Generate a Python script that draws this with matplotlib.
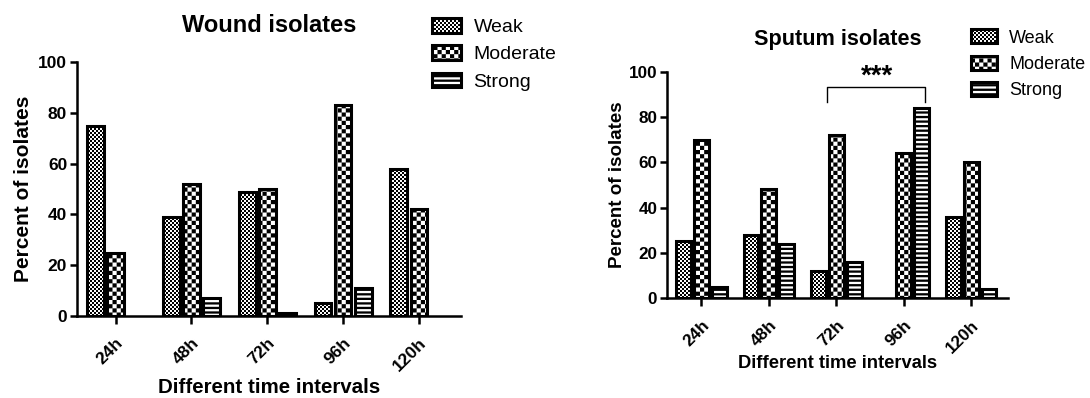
import warnings
import numpy as np
import matplotlib
matplotlib.use('Agg')
import matplotlib.pyplot as plt
import matplotlib.hatch as mhatch
import matplotlib.transforms as mtransforms
from matplotlib.path import Path

warnings.filterwarnings('ignore')

# data
intervals = ['24h', '48h', '72h', '96h', '120h']
levels = ['Weak', 'Moderate', 'Strong']
wound_weak = [75, 39, 49, 5, 58]
wound_moderate = [25, 52, 50, 83, 42]
wound_strong = [0, 7, 1, 11, 0]
sputum_weak = [25, 28, 12, 0, 36]
sputum_moderate = [70, 48, 72, 64, 60]
sputum_strong = [5, 24, 16, 84, 4]


# filled hatches (checkerboard 'c', horizontal stripes 's') like GraphPad
class RectHatch(mhatch.HatchPatternBase):
    def __init__(self, hatch, density):
        self.cells = []
        nc = 2 * hatch.count('c')
        for i in range(nc):
            for j in range(nc):
                if (i + j) % 2 == 0:
                    self.cells.append((i / nc, j / nc, 1.0 / nc, 1.0 / nc))
        ns = hatch.count('s')
        for j in range(ns):
            self.cells.append((0, j / ns, 1.0, 0.5 / ns))
        self.num_vertices = len(self.cells) * 5

    def set_vertices_and_codes(self, vertices, codes):
        for k, (x0, y0, w, h) in enumerate(self.cells):
            vertices[5*k:5*k+5] = [(x0, y0), (x0+w, y0), (x0+w, y0+h),
                                   (x0, y0+h), (x0, y0)]
            codes[5*k:5*k+5] = [Path.MOVETO, Path.LINETO, Path.LINETO,
                                Path.LINETO, Path.CLOSEPOLY]

mhatch._hatch_types.append(RectHatch)

plt.rcParams['font.family'] = ['Liberation Sans', 'DejaVu Sans']
plt.rcParams['hatch.linewidth'] = 0.01
plt.rcParams['hatch.color'] = 'black'

hatches = ['c' * 25, 'c' * 12, 's' * 22]


def draw_panel(ax, series, title, fs):
    x = np.arange(len(intervals))
    w = 0.22
    offs = [-0.265, 0.0, 0.265]
    for vals, lab, h, o in zip(series, levels, hatches, offs):
        lw = [2.2 if v > 0 else 0 for v in vals]
        ax.bar(x + o, vals, w, label=lab, facecolor='white', edgecolor='black',
               linewidth=lw, hatch=h, zorder=2)
    ax.set_xlim(-0.51, 4.55)
    ax.set_ylim(0, 100)
    ax.set_yticks([0, 20, 40, 60, 80, 100])
    ax.set_xticks(x)
    ax.set_xticklabels(intervals, rotation=45, ha='right', va='top',
                       rotation_mode='anchor', fontweight='bold', fontsize=fs['tick'])
    shift = mtransforms.ScaledTranslation(4 / 72, 0, fig.dpi_scale_trans)
    for t in ax.get_xticklabels():
        t.set_transform(t.get_transform() + shift)
    for t in ax.get_yticklabels():
        t.set_fontweight('bold')
        t.set_fontsize(fs['tick'])
    for s in ['top', 'right']:
        ax.spines[s].set_visible(False)
    for s in ['left', 'bottom']:
        ax.spines[s].set_linewidth(1.8)
    ax.tick_params(width=1.8, length=5, direction='out', pad=2)
    ax.tick_params(axis='x', length=6, pad=8)
    ax.set_title(title, fontsize=fs['title'], fontweight='bold', pad=fs['tpad'])
    ax.set_ylabel('Percent of isolates', fontsize=fs['ylabel'], fontweight='bold')
    ax.set_xlabel('Different time intervals', fontsize=fs['xlabel'], fontweight='bold')
    ax.xaxis.set_label_coords(0.5, fs['xl_y'])
    ax.yaxis.set_label_coords(fs['yl_x'], 0.5)


def add_legend(ax, anchor, size, hl, ls):
    leg = ax.legend(loc='upper left', bbox_to_anchor=anchor, bbox_transform=fig.transFigure,
                    frameon=False, borderpad=0, borderaxespad=0, fontsize=size,
                    handlelength=hl, handleheight=0.8, handletextpad=0.65,
                    labelspacing=ls)
    for hd in leg.legend_handles:
        hd.set_linewidth(2.2)


fig = plt.figure(figsize=(10.9, 3.98), dpi=100)

ax1 = fig.add_axes([0.0706, 0.206, 0.352, 0.638])
draw_panel(ax1, [wound_weak, wound_moderate, wound_strong], 'Wound isolates',
           {'tick': 12.5, 'title': 17, 'xlabel': 14.8, 'ylabel': 15, 'tpad': 22,
            'xl_y': -0.245, 'yl_x': -0.115})
add_legend(ax1, (0.396, 0.955), 14, 1.5, 0.47)

ax2 = fig.add_axes([0.612, 0.251, 0.313, 0.569])
draw_panel(ax2, [sputum_weak, sputum_moderate, sputum_strong], 'Sputum isolates',
           {'tick': 12.3, 'title': 15.6, 'xlabel': 13.2, 'ylabel': 13.5, 'tpad': 19.5,
            'xl_y': -0.252, 'yl_x': -0.12})
add_legend(ax2, (0.891, 0.926), 13, 1.45, 0.51)

# significance bracket between 72h and 96h strong
ax2.plot([1.86, 1.86, 3.32, 3.32], [86.5, 93.4, 93.4, 86.5], color='black',
         linewidth=1.0, clip_on=False)
ax2.text(2.61, 94.8, '***', ha='center', va='baseline', fontsize=20,
         fontweight='bold', clip_on=False)

fig.savefig('out.png', dpi=100)
